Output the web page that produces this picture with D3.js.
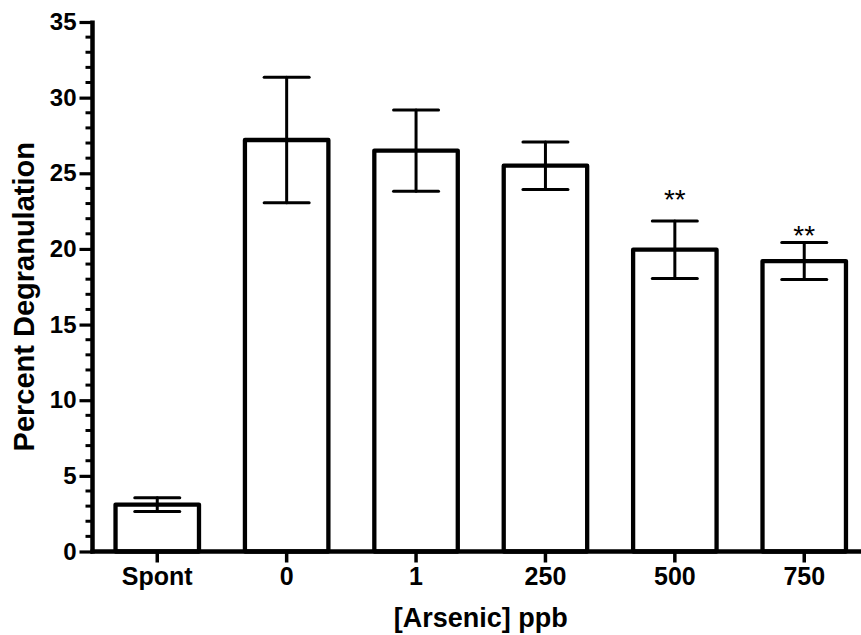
<!DOCTYPE html>
<html lang='en'>
<head>
  <meta charset='UTF-8'>
  <title>Percent Degranulation</title>
  <script src='https://cdn.jsdelivr.net/npm/d3@7'></script>
  <style>
    body { margin: 0; background: #fff; }
    svg { display: block; font-family: Arial, 'Liberation Sans', Helvetica, sans-serif; }
  </style>
</head>
<body>
<div id='main'></div>
<script>
  // data
  const groups = ['Spont', '0', '1', '250', '500', '750']
  const means = [3.1, 27.2, 26.5, 25.5, 19.95, 19.2]
  const sems = [0.45, 4.15, 2.68, 1.57, 1.9, 1.22]
  const marks = ['', '', '', '', '**', '**']
  const markAt = [0, 0, 0, 0, 23.7, 21.3] // level of the ** label, in %
  const yTicks = [0, 5, 10, 15, 20, 25, 30, 35]

  const width = 861
  const height = 635
  const x0 = 92.5, x1 = 869
  const yTop = 22, yBottom = 551.5

  const svg = d3.select('#main').append('svg')
    .attr('width', width)
    .attr('height', height)

  const x = d3.scaleBand()
    .domain(groups)
    .range([x0, x1])
    .paddingInner(0.355)
    .paddingOuter(0.178)

  const y = d3.scaleLinear()
    .domain([0, 35])
    .range([yBottom, yTop])

  // bars
  svg.append('g').selectAll('rect')
    .data(groups)
    .enter().append('rect')
    .attr('x', d => x(d))
    .attr('width', x.bandwidth())
    .attr('y', (d, i) => y(means[i]))
    .attr('height', (d, i) => y(0) - y(means[i]))
    .attr('fill', 'none')
    .attr('stroke', '#000')
    .attr('stroke-width', 4.3)
    .attr('stroke-linejoin', 'round')

  // error bars
  const capW = 45
  const eb = svg.append('g').attr('stroke', '#000').attr('stroke-width', 3).attr('stroke-linecap', 'round')
  groups.forEach((g, i) => {
    const cx = x(g) + x.bandwidth() / 2
    const hi = y(means[i] + sems[i])
    const lo = y(means[i] - sems[i])
    eb.append('line').attr('x1', cx).attr('x2', cx).attr('y1', hi).attr('y2', lo)
    eb.append('line').attr('x1', cx - capW / 2).attr('x2', cx + capW / 2).attr('y1', hi).attr('y2', hi)
    eb.append('line').attr('x1', cx - capW / 2).attr('x2', cx + capW / 2).attr('y1', lo).attr('y2', lo)
  })

  // significance marks
  svg.append('g').selectAll('text')
    .data(groups.filter((g, i) => marks[i]))
    .enter().append('text')
    .attr('x', d => x(d) + x.bandwidth() / 2)
    .attr('y', d => y(markAt[groups.indexOf(d)]) + 16)
    .attr('text-anchor', 'middle')
    .style('font-size', '28px')
    .text(d => marks[groups.indexOf(d)])

  // y axis
  const yAxis = d3.axisLeft(y).tickValues(yTicks).tickSize(13).tickPadding(3)
  const ya = svg.append('g')
    .attr('transform', `translate(${x0},0)`)
    .call(yAxis)
  ya.select('.domain').remove()
  ya.selectAll('.tick line').attr('stroke-width', 3.2)
  ya.selectAll('.tick text')
    .style('font-size', '24px')
    .style('font-weight', 'bold')
    .attr('fill', '#000')
  // minor ticks
  ya.selectAll('.minor')
    .data(d3.range(0, 36).filter(v => v % 5 !== 0))
    .enter().append('line')
    .attr('class', 'minor')
    .attr('x1', -7).attr('x2', 0)
    .attr('y1', d => y(d)).attr('y2', d => y(d))
    .attr('stroke', '#000')
    .attr('stroke-width', 3)
  ya.append('line')
    .attr('x1', 0).attr('x2', 0)
    .attr('y1', yTop - 1.5).attr('y2', yBottom + 2)
    .attr('stroke', '#000')
    .attr('stroke-width', 4.5)

  // x axis
  const xAxis = d3.axisBottom(x).tickSize(11).tickPadding(5)
  const xa = svg.append('g')
    .attr('transform', `translate(0,${yBottom})`)
    .call(xAxis)
  xa.select('.domain').remove()
  xa.selectAll('.tick line').attr('stroke-width', 3.5)
  xa.selectAll('.tick text')
    .style('font-size', '25px')
    .style('font-weight', 'bold')
    .attr('fill', '#000')
  xa.append('line')
    .attr('x1', x0 - 2).attr('x2', width)
    .attr('y1', 0).attr('y2', 0)
    .attr('stroke', '#000')
    .attr('stroke-width', 4.5)

  // axis titles
  svg.append('text')
    .attr('x', (x0 + x1) / 2)
    .attr('y', 627)
    .attr('text-anchor', 'middle')
    .style('font-size', '27px')
    .style('font-weight', 'bold')
    .text('[Arsenic] ppb')

  svg.append('text')
    .attr('transform', `translate(34,${(yTop + yBottom) / 2 + 10}) rotate(-90)`)
    .attr('text-anchor', 'middle')
    .style('font-size', '29px')
    .style('font-weight', 'bold')
    .text('Percent Degranulation')
</script>
</body>
</html>
